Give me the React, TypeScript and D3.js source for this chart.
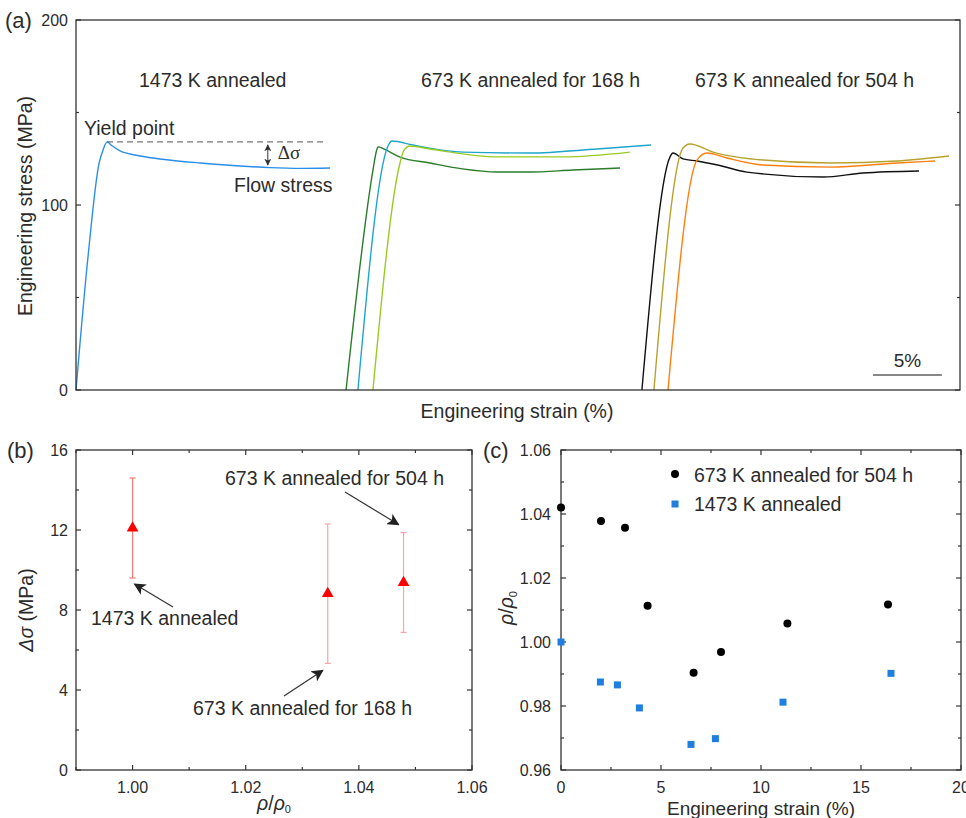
import React from "react";
import * as d3 from "d3";

const FONT = "Arial, 'Liberation Sans', Helvetica, sans-serif";
const SERIF = "'Times New Roman', 'Liberation Serif', serif";
const INK = "#2b2b2b";
const AXIS = "#333";

// (a) stress-strain curves: [strain shifted per group (%), stress (MPa)]
const curve1473: [number, number][] = [
  [0, 0], [0.87, 72], [1.67, 122.5], [1.96, 129.7], [2.25, 134.1], [2.61, 132],
  [3.19, 129.2], [4.28, 127], [6.09, 124.9], [8.99, 122.7], [11.88, 121.1],
  [14.06, 120.2], [16.23, 119.8], [18.41, 120],
];
const curve168a: [number, number][] = [
  [19.57, 0], [21.52, 118.9], [21.75, 128.5], [21.88, 131.4], [22.3, 130.3],
  [23.48, 125.9], [25.65, 122.7], [28.0, 119.5], [30.51, 117.8], [32.9, 117.8],
  [36.0, 118.9], [39.42, 120],
];
const curve168b: [number, number][] = [
  [20.43, 0], [22.61, 131.9], [22.9, 134.6], [24.42, 132.4], [28.04, 128.6],
  [32.9, 128.1], [37.75, 130.3], [41.67, 132.4],
];
const curve168c: [number, number][] = [
  [21.52, 0], [23.48, 122.7], [23.77, 129.7], [24.2, 131.9], [25.65, 130.3],
  [30.51, 126], [35.29, 126], [40.14, 128.6],
];
const curve504a: [number, number][] = [
  [41.01, 0], [43.04, 125.9], [43.26, 128.1], [43.99, 124.9], [45, 123.8],
  [46.5, 121.6], [48.62, 117.8], [54.13, 115.1], [57.03, 117.3], [61.09, 118.4],
];
const curve504b: [number, number][] = [
  [41.88, 0], [43.99, 130.8], [44.49, 133], [46.16, 128.6], [49.78, 124.3],
  [54.64, 122.7], [59.49, 123.8], [63.26, 126.5],
];
const curve504c: [number, number][] = [
  [42.9, 0], [45, 124.3], [45.72, 128.1], [47.17, 125.4], [49.78, 121.6],
  [54.64, 120.5], [59.49, 122.7], [62.25, 123.8],
];
const curves = [curve1473, curve168a, curve168b, curve168c, curve504a, curve504b, curve504c];
const curveColors = ["#2a8ee8", "#2a7d2a", "#1ea5cc", "#99cc22", "#111111", "#b8a22c", "#ff7f0e"];
const groupLabels = ["1473 K annealed", "673 K annealed for 168 h", "673 K annealed for 504 h"];
const yieldStress = 134.1;
const flowStress = 120;
const stressMajor = [0, 100, 200];
const stressMinor = [50, 150];

// (b) yield drop vs density ratio
const rhoRatio = [1.0, 1.0345, 1.0479];
const deltaSigma = [12.15, 8.87, 9.42];
const errLow = [9.6, 5.33, 6.88];
const errHigh = [14.6, 12.3, 11.87];
const rhoTicksB = [1.0, 1.02, 1.04, 1.06];
const rhoMinorB = [0.99, 1.01, 1.03, 1.05];
const dsTicks = [0, 4, 8, 12, 16];
const dsMinor = [2, 6, 10, 14];

// (c) density ratio vs strain
const strain504 = [0, 2.0, 3.2, 4.33, 6.63, 8.0, 11.32, 16.35];
const rho504 = [1.042, 1.0378, 1.0357, 1.0113, 0.9904, 0.9969, 1.0058, 1.0117];
const strain1473 = [0, 1.97, 2.82, 3.92, 6.5, 7.72, 11.1, 16.5];
const rho1473 = [1.0, 0.9875, 0.9866, 0.9794, 0.968, 0.9698, 0.9812, 0.9902];
const strainTicks = [0, 5, 10, 15, 20];
const strainMinor = [2.5, 7.5, 12.5, 17.5];
const rhoTicksC = [0.96, 0.98, 1.0, 1.02, 1.04, 1.06];
const rhoMinorC = [0.97, 0.99, 1.01, 1.03, 1.05];
const legendC = ["673 K annealed for 504 h", "1473 K annealed"];

type Scale = d3.ScaleLinear<number, number>;

const Frame = ({ x, y, xMajor = [], xMinor = [], yMajor, yMinor }: {
  x: Scale; y: Scale; xMajor?: number[]; xMinor?: number[]; yMajor: number[]; yMinor: number[];
}) => {
  const [x0, x1] = x.range();
  const [y0, y1] = y.range();
  const ticks: JSX.Element[] = [];
  yMajor.concat(yMinor).forEach((v, i) => {
    const len = i < yMajor.length ? 5 : 3;
    ticks.push(<line key={"yl" + i} x1={x0} x2={x0 + len} y1={y(v)} y2={y(v)} />);
    ticks.push(<line key={"yr" + i} x1={x1} x2={x1 - len} y1={y(v)} y2={y(v)} />);
  });
  xMajor.concat(xMinor).forEach((v, i) => {
    const len = i < xMajor.length ? 5 : 3;
    ticks.push(<line key={"xb" + i} x1={x(v)} x2={x(v)} y1={y0} y2={y0 - len} />);
    ticks.push(<line key={"xt" + i} x1={x(v)} x2={x(v)} y1={y1} y2={y1 + len} />);
  });
  return (
    <g stroke={AXIS} strokeWidth={1.2}>
      <rect x={x0} y={y1} width={x1 - x0} height={y0 - y1} fill="none" strokeWidth={1.3} />
      {ticks}
    </g>
  );
};

const PanelA = () => {
  const x = d3.scaleLinear().domain([0, 64.06]).range([76, 960]);
  const y = d3.scaleLinear().domain([0, 200]).range([390, 20]);
  const line = d3
    .line<[number, number]>()
    .x((d) => x(d[0]))
    .y((d) => y(d[1]))
    .curve(d3.curveMonotoneX);
  const arrowX = x(13.9);
  return (
    <g>
      {curves.map((c, i) => (
        <path key={i} d={line(c) || ""} fill="none" stroke={curveColors[i]} strokeWidth={1.4} />
      ))}
      <Frame x={x} y={y} yMajor={stressMajor} yMinor={stressMinor} />
      {stressMajor.map((v) => (
        <text key={v} x={68} y={y(v)} dy="0.35em" textAnchor="end" fontSize={16} fill={INK}>
          {v}
        </text>
      ))}
      <line x1={x(2.25)} x2={x(18.2)} y1={y(yieldStress)} y2={y(yieldStress)}
        stroke="#555" strokeWidth={1} strokeDasharray="6,4" />
      <line x1={arrowX} x2={arrowX} y1={y(yieldStress) + 3} y2={y(flowStress) - 3}
        stroke="#333" strokeWidth={1} markerStart="url(#arrS)" markerEnd="url(#arrS)" />
      <text x={arrowX + 10} y={159} fontFamily={SERIF} fontSize={19} fill={INK}>Δσ</text>
      <text x={84} y={135} fontSize={19.5} fill={INK}>Yield point</text>
      <text x={234} y={192} fontSize={19.5} fill={INK}>Flow stress</text>
      <text x={139} y={87} fontSize={19.5} fill={INK}>{groupLabels[0]}</text>
      <text x={421} y={87} fontSize={19.5} fill={INK}>{groupLabels[1]}</text>
      <text x={695} y={87} fontSize={19.5} fill={INK}>{groupLabels[2]}</text>
      <line x1={x(57.75)} x2={x(62.75)} y1={375} y2={375} stroke="#888" strokeWidth={2} />
      <text x={x(60.25)} y={367} textAnchor="middle" fontSize={19} fill={INK}>5%</text>
      <text transform="translate(32,206) rotate(-90)" textAnchor="middle" fontSize={19.5} fill={INK}>
        Engineering stress (MPa)
      </text>
      <text x={517} y={418} textAnchor="middle" fontSize={19.5} fill={INK}>Engineering strain (%)</text>
      <text x={5} y={28} fontSize={22} fill={INK}>(a)</text>
    </g>
  );
};

const PanelB = () => {
  const x = d3.scaleLinear().domain([0.99, 1.06]).range([76, 472]);
  const y = d3.scaleLinear().domain([0, 16]).range([770, 450]);
  const tri = d3.symbol(d3.symbolTriangle, 60)() || "";
  return (
    <g>
      <Frame x={x} y={y} xMajor={rhoTicksB} xMinor={rhoMinorB} yMajor={dsTicks} yMinor={dsMinor} />
      {rhoRatio.map((r, i) => (
        <g key={i} stroke={i === 0 ? "#ee7a7a" : "#f5a5a5"} strokeWidth={1.2}>
          <line x1={x(r)} x2={x(r)} y1={y(errLow[i])} y2={y(errHigh[i])} />
          <line x1={x(r) - 3} x2={x(r) + 3} y1={y(errLow[i])} y2={y(errLow[i])} />
          <line x1={x(r) - 3} x2={x(r) + 3} y1={y(errHigh[i])} y2={y(errHigh[i])} />
        </g>
      ))}
      {rhoRatio.map((r, i) => (
        <path key={i} d={tri} transform={`translate(${x(r)},${y(deltaSigma[i]) + 1})`} fill="#ff0000" />
      ))}
      {dsTicks.map((v) => (
        <text key={v} x={68} y={y(v)} dy="0.35em" textAnchor="end" fontSize={16} fill={INK}>{v}</text>
      ))}
      {rhoTicksB.map((v) => (
        <text key={v} x={x(v)} y={793} textAnchor="middle" fontSize={16} fill={INK}>{v.toFixed(2)}</text>
      ))}
      <g stroke="#333" strokeWidth={1.2} markerEnd="url(#arr)">
        <line x1={173} y1={607} x2={x(rhoRatio[0]) + 2} y2={y(errLow[0]) + 6} />
        <line x1={284} y1={696} x2={x(rhoRatio[1]) - 5} y2={y(errLow[1]) + 7} />
        <line x1={345} y1={492} x2={x(rhoRatio[2]) - 5} y2={y(errHigh[2]) - 8} />
      </g>
      <text x={91} y={625} fontSize={19.5} fill={INK}>1473 K annealed</text>
      <text x={193} y={715} fontSize={19.5} fill={INK}>673 K annealed for 168 h</text>
      <text x={225} y={485} fontSize={19.5} fill={INK}>673 K annealed for 504 h</text>
      <text transform="translate(33,610) rotate(-90)" textAnchor="middle" fontSize={19.5} fill={INK}>
        <tspan fontStyle="italic">Δσ</tspan> (MPa)
      </text>
      <text x={274} y={810} textAnchor="middle" fontSize={19.5} fill={INK}>
        <tspan fontStyle="italic">ρ</tspan>/<tspan fontStyle="italic">ρ</tspan>
        <tspan fontSize={11} dy={3}>0</tspan>
      </text>
      <text x={7} y={458} fontSize={22} fill={INK}>(b)</text>
    </g>
  );
};

const PanelC = () => {
  const x = d3.scaleLinear().domain([0, 20]).range([561, 961]);
  const y = d3.scaleLinear().domain([0.96, 1.06]).range([770, 450]);
  return (
    <g>
      <Frame x={x} y={y} xMajor={strainTicks} xMinor={strainMinor} yMajor={rhoTicksC} yMinor={rhoMinorC} />
      {strain504.map((s, i) => (
        <circle key={i} cx={x(s)} cy={y(rho504[i])} r={4} fill="#000" />
      ))}
      {strain1473.map((s, i) => (
        <rect key={i} x={x(s) - 3.5} y={y(rho1473[i]) - 3.5} width={7} height={7} fill="#1f7fe0" />
      ))}
      {rhoTicksC.map((v) => (
        <text key={v} x={551} y={y(v)} dy="0.35em" textAnchor="end" fontSize={16} fill={INK}>{v.toFixed(2)}</text>
      ))}
      {strainTicks.map((v) => (
        <text key={v} x={x(v)} y={793} textAnchor="middle" fontSize={16} fill={INK}>{v}</text>
      ))}
      <circle cx={675} cy={474} r={4} fill="#000" />
      <text x={694} y={482} fontSize={19.5} fill={INK}>{legendC[0]}</text>
      <rect x={671.5} y={500.5} width={7} height={7} fill="#1f7fe0" />
      <text x={694} y={511} fontSize={19.5} fill={INK}>{legendC[1]}</text>
      <text transform="translate(513,608) rotate(-90)" textAnchor="middle" fontSize={19.5} fill={INK}>
        <tspan fontStyle="italic">ρ</tspan>/<tspan fontStyle="italic">ρ</tspan>
        <tspan fontSize={11} dy={4}>0</tspan>
      </text>
      <text x={761} y={815} textAnchor="middle" fontSize={19} fill={INK}>Engineering strain (%)</text>
      <text x={483} y={458} fontSize={22} fill={INK}>(c)</text>
    </g>
  );
};

const App = () => (
  <div style={{ position: "absolute", left: 0, top: 0 }}>
    <svg width={966} height={818} fontFamily={FONT} style={{ display: "block", background: "#fff" }}>
      <defs>
        <marker id="arr" viewBox="0 0 10 10" refX={9} refY={5} markerWidth={12} markerHeight={12}
          markerUnits="userSpaceOnUse" orient="auto">
          <path d="M0,0 L10,5 L0,10 L2.5,5 z" fill="#222" />
        </marker>
        <marker id="arrS" viewBox="0 0 10 10" refX={9} refY={5} markerWidth={7} markerHeight={7}
          markerUnits="userSpaceOnUse" orient="auto-start-reverse">
          <path d="M0,0 L10,5 L0,10 L2.5,5 z" fill="#333" />
        </marker>
      </defs>
      <PanelA />
      <PanelB />
      <PanelC />
    </svg>
  </div>
);

export default App;
